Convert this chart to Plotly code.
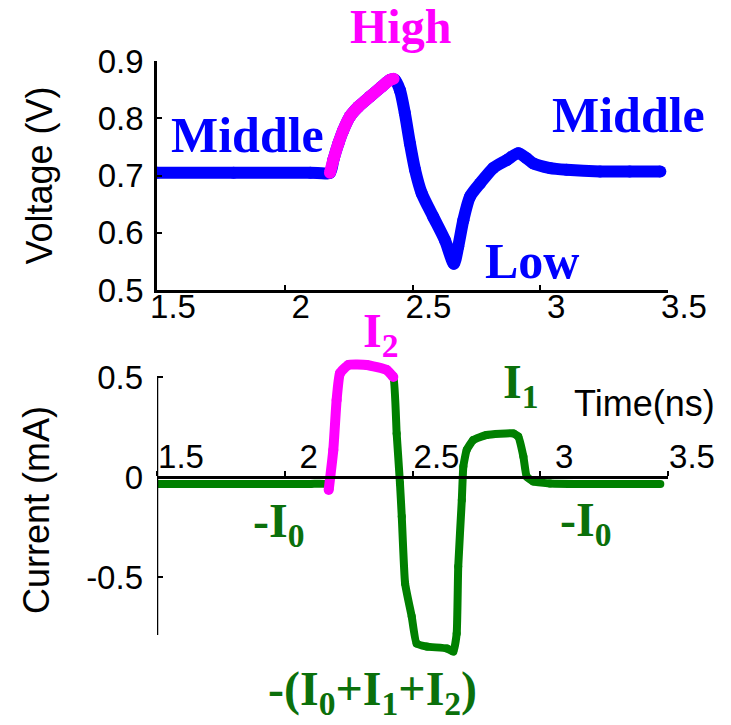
import plotly.graph_objects as go

W, H = 731, 725

# ---------------- data ----------------
t_volt = [1.50, 1.80, 2.10, 2.177, 2.190, 2.210, 2.229, 2.255, 2.288, 2.334, 2.379, 2.412,
          2.431, 2.451, 2.470, 2.490, 2.510, 2.536, 2.581, 2.627, 2.662, 2.679, 2.699,
          2.725, 2.764, 2.816, 2.869, 2.914, 2.947, 2.973, 3.038, 3.103, 3.234, 3.350, 3.470]
volt = [0.705, 0.705, 0.705, 0.705, 0.727, 0.756, 0.779, 0.803, 0.820, 0.838, 0.855, 0.867,
        0.867, 0.849, 0.809, 0.756, 0.710, 0.669, 0.628, 0.587, 0.546, 0.576, 0.622,
        0.663, 0.686, 0.713, 0.727, 0.739, 0.730, 0.721, 0.713, 0.710, 0.707, 0.707, 0.707]

t_high = [2.177, 2.190, 2.210, 2.229, 2.255, 2.288, 2.334, 2.379, 2.412, 2.426]
v_high = [0.705, 0.727, 0.756, 0.779, 0.803, 0.820, 0.838, 0.855, 0.867, 0.869]

t_curr = [1.50, 1.80, 2.10, 2.165, 2.172, 2.190, 2.203, 2.216, 2.249, 2.321, 2.399, 2.425,
          2.438, 2.451, 2.458, 2.471, 2.497, 2.516, 2.556, 2.634, 2.660, 2.673, 2.679,
          2.693, 2.699, 2.712, 2.738, 2.790, 2.895, 2.914, 2.934, 2.947, 2.973, 3.038,
          3.200, 3.470]
curr = [-0.035, -0.035, -0.035, -0.035, -0.065, 0.135, 0.385, 0.518, 0.560, 0.560, 0.535, 0.500,
        0.218, -0.032, -0.198, -0.532, -0.698, -0.832, -0.848, -0.857, -0.873, -0.782, -0.448,
        -0.115, 0.052, 0.135, 0.185, 0.210, 0.218, 0.202, 0.102, 0.002, -0.023, -0.032,
        -0.035, -0.035]

t_i2 = [2.172, 2.190, 2.203, 2.216, 2.249, 2.321, 2.399, 2.425]
i_i2 = [-0.065, 0.135, 0.385, 0.518, 0.560, 0.560, 0.535, 0.500]

x_ticks = [1.5, 2, 2.5, 3, 3.5]
x_ticktext = ["1.5", "2", "2.5", "3", "3.5"]
v_ticks = [0.5, 0.6, 0.7, 0.8, 0.9]
v_ticktext = ["0.5", "0.6", "0.7", "0.8", "0.9"]
i_ticks = [-0.5, 0, 0.5]
i_ticktext = ["-0.5", "0", "0.5"]

BLUE = "#0000FF"
PINK = "#FF00FF"
GREEN = "#008000"
TGREEN = "#0B700B"

def px(x):
    return x / W

def py(y):
    return 1 - y / H

fig = go.Figure()

fig.add_trace(go.Scatter(x=t_volt, y=volt, mode="lines+markers", xaxis="x", yaxis="y",
                         line=dict(color=BLUE, width=12, shape="spline", smoothing=0.7),
                         marker=dict(color=BLUE, size=12),
                         showlegend=False, hoverinfo="skip"))
fig.add_trace(go.Scatter(x=t_high, y=v_high, mode="lines+markers", xaxis="x", yaxis="y",
                         line=dict(color=PINK, width=12, shape="spline", smoothing=0.7),
                         marker=dict(color=PINK, size=12),
                         showlegend=False, hoverinfo="skip"))
fig.add_trace(go.Scatter(x=t_curr, y=curr, mode="lines+markers", xaxis="x2", yaxis="y2",
                         line=dict(color=GREEN, width=8, shape="spline", smoothing=0.4),
                         marker=dict(color=GREEN, size=8),
                         showlegend=False, hoverinfo="skip"))
fig.add_trace(go.Scatter(x=t_i2, y=i_i2, mode="lines+markers", xaxis="x2", yaxis="y2",
                         line=dict(color=PINK, width=10, shape="spline", smoothing=0.4),
                         marker=dict(color=PINK, size=10),
                         showlegend=False, hoverinfo="skip"))

SANS = "Liberation Sans, Arial, sans-serif"
TICKFONT = dict(family=SANS, size=33, color="black")
xdom = [px(157), px(668)]

fig.update_layout(
    template="none",
    width=W, height=H,
    margin=dict(l=0, r=0, t=0, b=0, pad=0, autoexpand=False),
    paper_bgcolor="white", plot_bgcolor="white",
    xaxis=dict(domain=xdom, anchor="y", range=[1.5, 3.5], tickvals=x_ticks, ticktext=x_ticktext,
               ticks="inside", ticklen=5, tickwidth=1.5, tickcolor="black", automargin=False,
               showline=True, linecolor="black", linewidth=2.5, showgrid=False, zeroline=False,
               tickfont=TICKFONT, ticklabelshift=16, ticklabelstandoff=-14),
    yaxis=dict(domain=[py(290), py(61)], anchor="x", range=[0.5, 0.9], tickvals=v_ticks,
               ticktext=v_ticktext, ticks="inside", ticklen=5, tickwidth=1.5, tickcolor="black",
               showline=True, linecolor="black", linewidth=2.5, showgrid=False, zeroline=False,
               tickfont=TICKFONT, ticklabelstandoff=4, automargin=False,
               title=dict(text="Voltage (V)", standoff=35, font=dict(family=SANS, size=36, color="black"))),
    xaxis2=dict(domain=xdom, anchor="free", position=py(477), side="top", range=[1.5, 3.5],
                tickvals=x_ticks, ticktext=x_ticktext, ticks="outside", ticklen=5, tickwidth=1.5,
                tickcolor="black", showline=True, linecolor="black", linewidth=3, automargin=False,
                showgrid=False, zeroline=False, tickfont=TICKFONT, ticklabelshift=24,
                ticklabelstandoff=-10),
    yaxis2=dict(domain=[py(667), py(353)], anchor="free", position=px(157), range=[-0.95, 0.62],
                tickvals=i_ticks, ticktext=i_ticktext, ticks="inside", ticklen=5, tickwidth=1.5,
                tickcolor="black", showline=False, showgrid=False, zeroline=False, automargin=False,
                tickfont=TICKFONT, ticklabelstandoff=14,
                title=dict(text="Current (mA)", standoff=24, font=dict(family=SANS, size=36, color="black"))),
)

# visible extent of the current axis line
fig.add_shape(type="line", xref="x2", yref="y2", x0=1.5, x1=1.5, y0=-0.79, y1=0.505,
              line=dict(color="black", width=2.5))

SERIF = "Liberation Serif, Times New Roman, serif"

def label(text, x, y, color, size=48, family=SERIF):
    fig.add_annotation(text=text, x=px(x), y=py(y), xref="paper", yref="paper",
                       xanchor="center", yanchor="middle", showarrow=False,
                       font=dict(family=family, size=size, color=color))

label("<b>High</b>", 400, 27, PINK)
label("<b>Middle</b>", 247, 135, BLUE, size=50)
label("<b>Middle</b>", 628, 115, BLUE, size=50)
label("<b>Low</b>", 532, 261, BLUE, size=50)
label("<b>I<sub>2</sub></b>", 380, 334, PINK)
label("<b>I<sub>1</sub></b>", 520, 385, TGREEN)
label("<b>-I<sub>0</sub></b>", 278, 524, TGREEN)
label("<b>-I<sub>0</sub></b>", 585, 523, TGREEN)
label("<b>-(I<sub>0</sub>+I<sub>1</sub>+I<sub>2</sub>)</b>", 372, 692, TGREEN)
label("Time(ns)", 644, 404, "black", size=36, family=SANS)

fig.write_html("out.html", config={"displayModeBar": False},
               post_script="document.body.style.margin='0';document.body.style.overflow='hidden';")
